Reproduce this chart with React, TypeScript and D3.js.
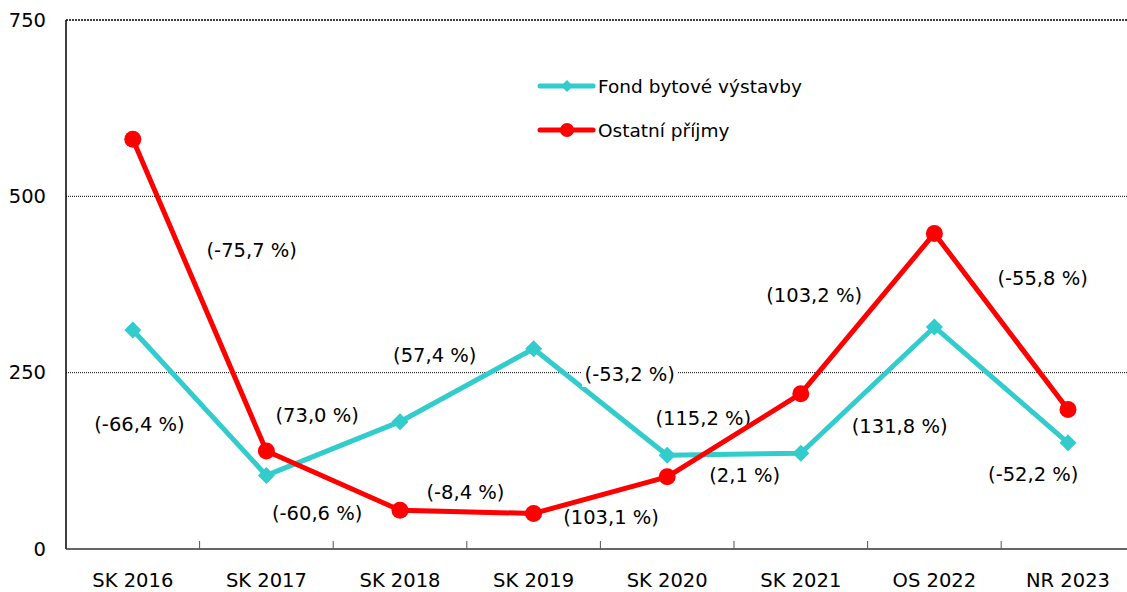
import React from "react";
import * as d3 from "d3";

const categories = ["SK 2016", "SK 2017", "SK 2018", "SK 2019", "SK 2020", "SK 2021", "OS 2022", "NR 2023"];
const fondValues = [310.5, 104.3, 180.5, 284, 133, 135.8, 314.8, 150.5];
const ostatniValues = [581, 139, 55, 50.4, 102.3, 220.2, 447.4, 197.7];
const fondChanges = ["(-66,4 %)", "(73,0 %)", "(57,4 %)", "(-53,2 %)", "(2,1 %)", "(131,8 %)", "(-52,2 %)"];
const ostatniChanges = ["(-75,7 %)", "(-60,6 %)", "(-8,4 %)", "(103,1 %)", "(115,2 %)", "(103,2 %)", "(-55,8 %)"];
const yTicks = [0, 250, 500, 750];
const seriesNames = ["Fond bytové výstavby", "Ostatní příjmy"];

// label anchors in data units: [category index (fractional), value]
const fondLabelAnchors: [number, number][] = [
  [0.05, 177], [1.38, 188.6], [2.26, 275], [3.72, 246.7], [4.58, 103.5], [5.74, 173], [6.74, 106],
];
const ostatniLabelAnchors: [number, number][] = [
  [0.89, 422.5], [1.38, 51], [2.49, 79.4], [3.58, 44], [4.27, 185.7], [5.10, 358.7], [6.81, 384],
];

const W = 1127;
const H = 592;
const left = 66;
const bandW = 133.6;
const top = 20;
const bottom = 549;
const TEAL = "#33CCCC";
const RED = "#FF0000";
const FONT = "'DejaVu Sans', sans-serif";
const FS = 19.5;
const LFS = 18.5;

export default function App() {
  const x = d3.scaleBand<string>().domain(categories).range([left, left + bandW * categories.length]).padding(0);
  const cx = (i: number) => left + bandW * (i + 0.5);
  const y = d3.scaleLinear().domain([0, 750]).range([bottom, top]);
  const line = d3.line<number>().x((_, i) => cx(i)).y((d) => y(d));

  const labelText = (txt: string, a: [number, number], key: string) => {
    const w = txt.length * 10.6;
    const px = cx(a[0]);
    const py = y(a[1]);
    return (
      <g key={key}>
        <rect x={px - w / 2} y={py - 12} width={w} height={24} fill="#fff" />
        <text x={px} y={py} textAnchor="middle" dominantBaseline="central" fontSize={FS} fontFamily={FONT} fill="#000">
          {txt}
        </text>
      </g>
    );
  };

  const diamond = (px: number, py: number, r: number, key: string) => (
    <path key={key} d={`M${px},${py - r}L${px + r},${py}L${px},${py + r}L${px - r},${py}Z`} fill={TEAL} />
  );

  return (
    <svg width={W} height={H} style={{ position: "absolute", left: 0, top: 0, background: "#fff" }}>
      {/* gridlines */}
      {yTicks.filter((t) => t > 0).map((t) => (
        <line key={"g" + t} x1={left} x2={W} y1={y(t)} y2={y(t)} stroke="#000" strokeWidth={t === 750 ? 1.5 : 1} strokeDasharray={t === 750 ? "2,1" : "1,1"} />
      ))}
      {/* y tick labels */}
      {yTicks.map((t) => (
        <text key={"yt" + t} x={46} y={y(t)} textAnchor="end" dominantBaseline="central" fontSize={FS} fontFamily={FONT} fill="#000">
          {t}
        </text>
      ))}
      {/* axes */}
      <line x1={left} x2={left} y1={top} y2={bottom} stroke="#000" strokeWidth={1.5} />
      <line x1={left} x2={W} y1={bottom} y2={bottom} stroke="#333" strokeWidth={1.5} />
      {categories.slice(1).map((c) => (
        <line key={"tk" + c} x1={x(c)!} x2={x(c)!} y1={bottom} y2={bottom - 8} stroke="#555" strokeWidth={1} />
      ))}
      {categories.map((c, i) => (
        <text key={"xl" + c} x={cx(i)} y={580} textAnchor="middle" dominantBaseline="central" fontSize={FS} fontFamily={FONT} fill="#000">
          {c}
        </text>
      ))}
      {/* teal series */}
      <path d={line(fondValues)!} fill="none" stroke={TEAL} strokeWidth={5} strokeLinejoin="round" />
      {fondValues.map((v, i) => diamond(cx(i), y(v), 8.5, "fd" + i))}
      {/* labels */}
      {fondChanges.map((t, i) => labelText(t, fondLabelAnchors[i], "fl" + i))}
      {ostatniChanges.map((t, i) => labelText(t, ostatniLabelAnchors[i], "ol" + i))}
      {/* red series */}
      <path d={line(ostatniValues)!} fill="none" stroke={RED} strokeWidth={5} strokeLinejoin="round" />
      {ostatniValues.map((v, i) => (
        <circle key={"oc" + i} cx={cx(i)} cy={y(v)} r={8.5} fill={RED} />
      ))}
      {/* legend */}
      <line x1={540} x2={593} y1={86} y2={86} stroke={TEAL} strokeWidth={5} strokeLinecap="round" />
      {diamond(567, 86, 6, "ld")}
      <text x={598} y={86} dominantBaseline="central" fontSize={LFS} fontFamily={FONT} fill="#000">{seriesNames[0]}</text>
      <line x1={540} x2={593} y1={130} y2={130} stroke={RED} strokeWidth={5} strokeLinecap="round" />
      <circle cx={567} cy={130} r={7} fill={RED} />
      <text x={598} y={130} dominantBaseline="central" fontSize={LFS} fontFamily={FONT} fill="#000">{seriesNames[1]}</text>
    </svg>
  );
}
